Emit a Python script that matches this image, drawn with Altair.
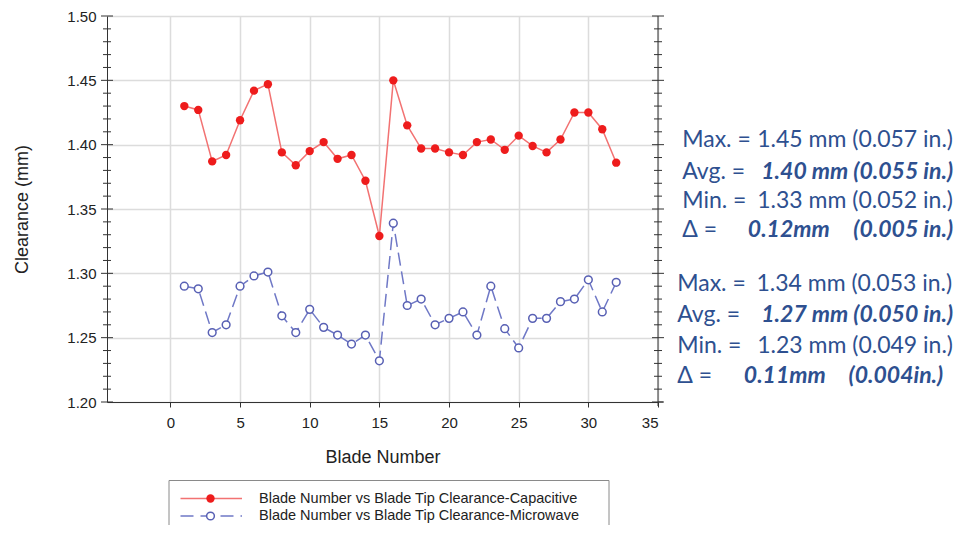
import altair as alt
import pandas as pd

# ---------------- data ----------------
blades = list(range(1, 33))
capacitive = [1.430, 1.427, 1.387, 1.392, 1.419, 1.442, 1.447, 1.394, 1.384, 1.395,
              1.402, 1.389, 1.392, 1.372, 1.329, 1.450, 1.415, 1.397, 1.397, 1.394,
              1.392, 1.402, 1.404, 1.396, 1.407, 1.399, 1.394, 1.404, 1.425, 1.425,
              1.412, 1.386]
microwave = [1.290, 1.288, 1.254, 1.260, 1.290, 1.298, 1.301, 1.267, 1.254, 1.272,
             1.258, 1.252, 1.245, 1.252, 1.232, 1.339, 1.275, 1.280, 1.260, 1.265,
             1.270, 1.252, 1.290, 1.257, 1.242, 1.265, 1.265, 1.278, 1.280, 1.295,
             1.270, 1.293]

x_ticks = [0, 5, 10, 15, 20, 25, 30, 35]
y_major = [1.20, 1.25, 1.30, 1.35, 1.40, 1.45, 1.50]
y_minor = [1.21, 1.22, 1.23, 1.24, 1.26, 1.27, 1.28, 1.29, 1.31, 1.32, 1.33, 1.34,
           1.36, 1.37, 1.38, 1.39, 1.41, 1.42, 1.43, 1.44, 1.46, 1.47, 1.48, 1.49]

legend_labels = ["Blade Number vs Blade Tip Clearance-Capacitive",
                 "Blade Number vs Blade Tip Clearance-Microwave"]

ann1_labels = ["Max. =", "Avg. =", "Min. =", "Δ ="]
ann1_values = ["1.45 mm (0.057 in.)", "1.40 mm (0.055 in.)", "1.33 mm (0.052 in.)"]
ann1_delta = ["0.12mm", "(0.005 in.)"]
ann2_labels = ["Max. =", "Avg. =", "Min. =", "Δ ="]
ann2_values = ["1.34 mm (0.053 in.)", "1.27 mm (0.050 in.)", "1.23 mm (0.049 in.)"]
ann2_delta = ["0.11mm", "(0.004in.)"]

df = pd.DataFrame({"blade": blades, "cap": capacitive, "mw": microwave})
one = pd.DataFrame({"k": [0]})
ymaj = pd.DataFrame({"v": y_major})
ymin = pd.DataFrame({"v": y_minor})

# ---------------- styling ----------------
W, H = 551, 386
AXF = "Liberation Sans"
ANNF = "Lato"
ANNS = 23
ANNC = "#2e5090"
AXC = "#333333"
RED_LINE = "#f27272"
RED_PT = "#ee1c1c"
BLUE_LINE = "#6f78c6"
BLUE_PT = "#5860b4"

x_scale = alt.Scale(domain=[-4.55, 35], nice=False, zero=False)
y_scale = alt.Scale(domain=[1.20, 1.50], nice=False, zero=False)

x_axis = alt.Axis(values=x_ticks, grid=True, gridColor="#dcdcdc", gridWidth=1.5,
                  domainColor=AXC, tickColor=AXC, tickSize=5, labelFontSize=15,
                  labelFont=AXF, labelColor="#222", labelPadding=8,
                  title="Blade Number", titleFont=AXF, titleFontSize=18,
                  titleFontWeight="normal", titleColor="#222", titlePadding=18)
y_axis = alt.Axis(values=y_major, grid=True, gridColor="#dcdcdc", gridWidth=1.5,
                  domainColor=AXC, ticks=False, labelFontSize=15, labelFont=AXF,
                  labelColor="#222", labelPadding=11, format=".2f",
                  title="Clearance (mm)", titleFont=AXF, titleFontSize=18,
                  titleFontWeight="normal", titleColor="#222", titlePadding=35)


def xe():
    return alt.X("blade:Q", scale=x_scale, axis=x_axis)


def ye(field):
    return alt.Y(field + ":Q", scale=y_scale, axis=y_axis, title="Clearance (mm)")


red_line = alt.Chart(df).mark_line(color=RED_LINE, strokeWidth=1.5).encode(
    x=xe(), y=ye("cap"))
blue_line = alt.Chart(df).mark_line(color=BLUE_LINE, strokeWidth=1.5,
                                    strokeDash=[13, 6]).encode(x=xe(), y=ye("mw"))
red_pts = alt.Chart(df).mark_point(shape="circle", filled=True, color=RED_PT,
                                   size=70, opacity=1).encode(x=xe(), y=ye("cap"))
blue_pts = alt.Chart(df).mark_point(shape="circle", filled=False, fill="white",
                                    fillOpacity=1, stroke=BLUE_PT, strokeWidth=1.5,
                                    size=60, opacity=1).encode(x=xe(), y=ye("mw"))


def yticks(data, half, x0):
    return alt.Chart(data).mark_rule(color=AXC, strokeWidth=1).encode(
        y=ye("v"),
        x=alt.value(x0 - half), x2=alt.value(x0 + half))


def rule(x, x2, y, y2, color=AXC, width=1, dash=None):
    kw = dict(color=color, strokeWidth=width)
    if dash:
        kw["strokeDash"] = dash
    return alt.Chart(one).mark_rule(**kw).encode(
        x=alt.value(x), x2=alt.value(x2), y=alt.value(y), y2=alt.value(y2))


def txt(s, x, y, align="left", weight="normal", style="normal", size=ANNS,
        color=ANNC, font=ANNF):
    return alt.Chart(one).mark_text(text=s, align=align, baseline="middle", font=font,
                                    fontSize=size, fontWeight=weight, fontStyle=style,
                                    color=color).encode(x=alt.value(x), y=alt.value(y))


layers = [red_line, blue_line, red_pts, blue_pts,
          yticks(ymaj, 6, 0), yticks(ymin, 4, 0),
          yticks(ymaj, 6, W), yticks(ymin, 4, W),
          rule(W, W, 0, H + 4),          # right axis line
          rule(W, W + 5, H, H)]          # x axis overhang

# ---- legend (drawn) ----
LX0, LX1, LY0, LYB = 62, 502, 464.5, 530
layers += [rule(LX0, LX1, LY0, LY0, color="#8a8a8a"),
           rule(LX0, LX0, LY0, LYB, color="#8a8a8a"),
           rule(LX1, LX1, LY0, LYB, color="#8a8a8a")]
r1, r2 = 482.5, 500
layers += [rule(73.5, 135, r1, r1, color=RED_LINE, width=1.5),
           alt.Chart(one).mark_point(shape="circle", filled=True, color=RED_PT, size=70,
                                     opacity=1).encode(x=alt.value(103.5), y=alt.value(r1)),
           rule(73.5, 135, r2, r2, color=BLUE_LINE, width=1.5, dash=[13, 7]),
           alt.Chart(one).mark_point(shape="circle", filled=False, fill="white",
                                     fillOpacity=1, stroke=BLUE_PT, strokeWidth=1.5,
                                     size=60, opacity=1).encode(x=alt.value(103.5),
                                                                y=alt.value(r2)),
           txt(legend_labels[0], 152, r1, size=14.5, color="#222", font=AXF),
           txt(legend_labels[1], 152, r2, size=14.5, color="#222", font=AXF)]

# ---- annotations ----
RX = 846.0
b1y = [124.4, 156.0, 185.4, 213.7]
for i, lab in enumerate(ann1_labels):
    layers.append(txt(lab, 575.2, b1y[i]))
for i, val in enumerate(ann1_values):
    bold = (i == 1)
    layers.append(txt(val, RX, b1y[i], align="right",
                      weight="bold" if bold else "normal",
                      style="italic" if bold else "normal"))
layers.append(txt(ann1_delta[0], 640.8, b1y[3], weight="bold", style="italic"))
layers.append(txt(ann1_delta[1], RX, b1y[3], align="right", weight="bold", style="italic"))

b2y = [268.0, 298.7, 330.4, 360.4]
b2r = [845.2, 846.0, 846.0]
for i, lab in enumerate(ann2_labels):
    layers.append(txt(lab, 570.2, b2y[i]))
for i, val in enumerate(ann2_values):
    bold = (i == 1)
    layers.append(txt(val, b2r[i], b2y[i], align="right",
                      weight="bold" if bold else "normal",
                      style="italic" if bold else "normal"))
layers.append(txt(ann2_delta[0], 636.8, b2y[3], weight="bold", style="italic"))
layers.append(txt(ann2_delta[1], 836.2, b2y[3], align="right", weight="bold", style="italic"))

chart = alt.layer(*layers).properties(
    width=W, height=H,
    autosize=alt.AutoSizeParams(type="none"),
    padding={"left": 99, "top": 8, "right": 297, "bottom": 123},
    background="white",
).configure_view(stroke=None)

chart.save("out.html", embed_options={"renderer": "svg", "actions": False})
